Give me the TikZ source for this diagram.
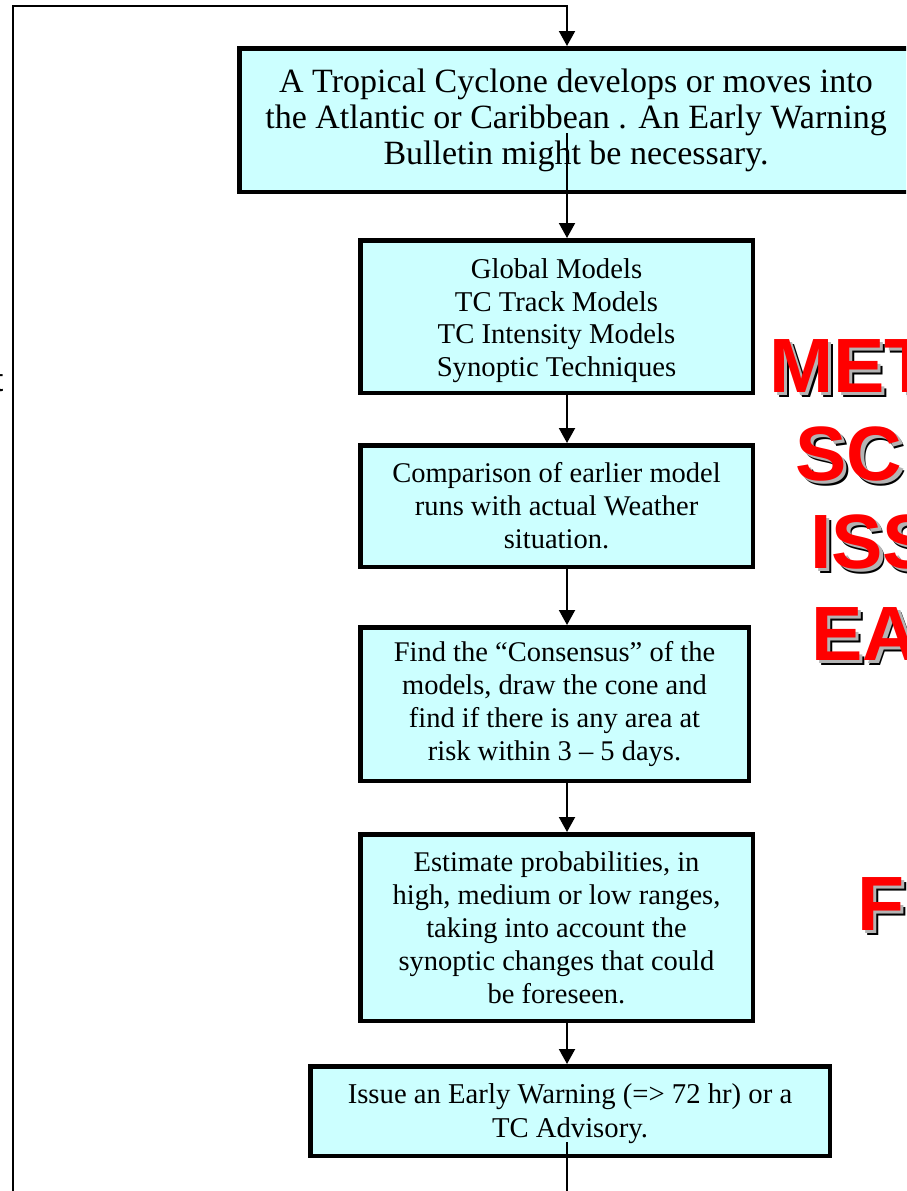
\documentclass[tikz,border=0pt]{standalone}
\usepackage{fontspec}
\setmainfont{Liberation Serif}
\newfontfamily\arialfont{Liberation Sans}
\usetikzlibrary{arrows.meta}
\definecolor{boxfill}{HTML}{CCFFFF}
\definecolor{shadowgray}{HTML}{B4B4B4}
\definecolor{bigred}{HTML}{FF0000}
\begin{document}
\begin{tikzpicture}[x=1pt,y=-1pt,
  stepbox/.style={draw=black,line width=4.5pt,fill=boxfill,align=center,inner sep=0pt,
    font=\fontsize{28.5}{33}\selectfont},
  boxtext/.style={align=center,inner sep=0pt,font=\fontsize{28.7}{32.5}\selectfont},
  topbox/.style={stepbox,font=\fontsize{34}{36}\selectfont},
  conn/.style={line width=2pt,-{Triangle[width=16pt,length=15pt]}},
  bigword/.style={font=\arialfont\bfseries\fontsize{77}{77}\selectfont,anchor=base west,inner sep=0pt},
  redw/.style={bigword,text=bigred},
  grayw/.style={bigword,text=shadowgray},
  blackw/.style={bigword,text=black}]
\useasboundingbox (0,0) rectangle (906,1191);
\clip (0,0) rectangle (906,1191);

% boxes
\node[topbox,minimum width=673.5pt,minimum height=143.5pt] (b1) at (576,120)
  {A Tropical Cyclone develops or moves into\\the Atlantic or Caribbean . An Early Warning\\Bulletin might be necessary.};
\node[stepbox,minimum width=392.5pt,minimum height=152.5pt] (b2) at (556.5,316.5) {};
\node[boxtext] (b2t) at ([yshift=-4pt]b2.center)
  {Global Models\\TC Track Models\\TC Intensity Models\\Synoptic Techniques};
\node[stepbox,minimum width=392.5pt,minimum height=121.5pt] (b3) at (556.5,506)
  {Comparison of earlier model\\runs with actual Weather\\situation.};
\node[stepbox,minimum width=388.5pt,minimum height=153.5pt] (b4) at (554.5,704)
  {Find the ``Consensus'' of the\\models, draw the cone and\\find if there is any area at\\risk within 3 -- 5 days.};
\node[stepbox,minimum width=392.5pt,minimum height=186.5pt] (b5) at (556.5,927.5)
  {Estimate probabilities, in\\high, medium or low ranges,\\taking into account the\\synoptic changes that could\\be foreseen.};
\node[stepbox,minimum width=519.5pt,minimum height=89.5pt] (b6) at (570,1111) {};
\node[boxtext,font=\fontsize{28.7}{34}\selectfont] (b6t) at ([yshift=-3pt]b6.center)
  {Issue an Early Warning (=> 72 hr) or a\\TC Advisory.};

% connectors
\coordinate (cx) at (567,0);
\coordinate (loopbl) at (13,1215);
\coordinate (looptop) at (567,6);
\draw[conn] ([yshift=-13pt]b1.center -| cx) -- (b2.north -| cx);
\draw[conn] (b2.south -| cx) -- (b3.north -| cx);
\draw[conn] (b3.south -| cx) -- (b4.north -| cx);
\draw[conn] (b4.south -| cx) -- (b5.north -| cx);
\draw[conn] (b5.south -| cx) -- (b6.north -| cx);
\draw[conn] ([yshift=-31pt]b6.center -| cx) |- (loopbl) |- (looptop) -- (b1.north -| cx);

% clipped text on the left
\node[font=\arialfont\fontsize{32}{32}\selectfont,anchor=base east,inner sep=0pt] (tl) at (3.5,391) {t};

% big red shadowed words (clipped at the right edge)
\node[blackw] (w1k) at (774,397) {MET};
\node[grayw]  (w1g) at (772.5,395.5) {MET};
\node[redw]   (w1)  at (769,392) {MET};

\node[blackw] (w2k) at (800,485) {SC};
\node[grayw]  (w2g) at (798.5,483.5) {SC};
\node[redw]   (w2)  at (795,480) {SC};

\node[blackw] (w3k) at (815,573) {ISS};
\node[grayw]  (w3g) at (813.5,571.5) {ISS};
\node[redw]   (w3)  at (810,568) {ISS};

\node[blackw] (w4k) at (816,665) {EA};
\node[grayw]  (w4g) at (814.5,663.5) {EA};
\node[redw]   (w4)  at (811,660) {EA};

\node[blackw] (w5k) at (862,935) {F};
\node[grayw]  (w5g) at (860.5,933.5) {F};
\node[redw]   (w5)  at (857,930) {F};
\end{tikzpicture}
\end{document}
